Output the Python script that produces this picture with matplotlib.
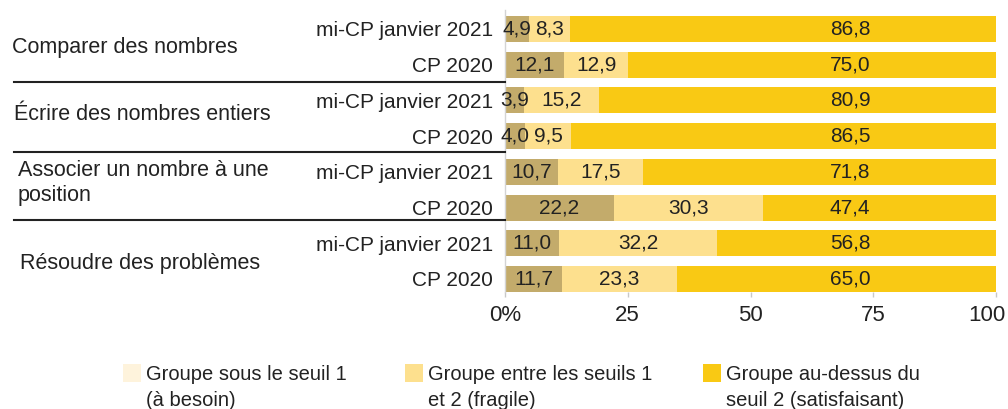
import matplotlib
matplotlib.use("Agg")
import matplotlib.pyplot as plt
import matplotlib.transforms as mtransforms
from matplotlib.patches import Rectangle
from matplotlib.lines import Line2D

# ---- data ----
categories = ["Comparer des nombres", "Écrire des nombres entiers",
              "Associer un nombre à une\nposition", "Résoudre des problèmes"]
periods = ["mi-CP janvier 2021", "CP 2020"]
row_labels = [p for _ in categories for p in periods]
besoin = [4.9, 12.1, 3.9, 4.0, 10.7, 22.2, 11.0, 11.7]
fragile = [8.3, 12.9, 15.2, 9.5, 17.5, 30.3, 32.2, 23.3]
satisf = [86.8, 75.0, 80.9, 86.5, 71.8, 47.4, 56.8, 65.0]
series_names = ["Groupe sous le seuil 1\n(à besoin)",
                "Groupe entre les seuils 1\net 2 (fragile)",
                "Groupe au-dessus du\nseuil 2 (satisfaisant)"]
xticks = [0, 25, 50, 75, 100]
xtick_labels = ["0%", "25", "50", "75", "100"]

bar_colors = ["#c3ab6b", "#fde08e", "#f9c914"]
legend_colors = ["#fef3dc", "#fde08e", "#f9c914"]
TXT = "#222222"
FONT = ["Liberation Sans", "DejaVu Sans"]

W, H = 1008, 409
fig = plt.figure(figsize=(W / 100, H / 100), dpi=100)
plt.rcParams["font.family"] = FONT


def fx(px):
    return px / W


def fy(py):
    return 1 - py / H


ax = fig.add_axes([fx(505), fy(292), fx(996) - fx(505), fy(10) - fy(292)])

y = list(range(len(row_labels)))
h = 0.728
lefts = [0.0] * len(y)
series = [besoin, fragile, satisf]
for k, vals in enumerate(series):
    ax.barh(y, vals, left=lefts, height=h, color=bar_colors[k], linewidth=0)
    for i, v in enumerate(vals):
        if k == 2:
            xpos = 70.3
        else:
            xpos = lefts[i] + v / 2
        ax.text(xpos, y[i], f"{v:.1f}".replace(".", ","), ha="center", va="center",
                fontsize=15, color=TXT, family=FONT)
    lefts = [l + v for l, v in zip(lefts, vals)]

ax.set_xlim(0, 100)
ax.set_ylim(7.364, -0.532)
ax.set_yticks(y)
ax.set_yticklabels(row_labels, fontsize=15, color=TXT, family=FONT)
ax.tick_params(axis="y", length=0, pad=8.6)
ax.set_xticks(xticks)
ax.set_xticklabels(xtick_labels, fontsize=16, color=TXT, family=FONT)
ax.tick_params(axis="x", length=3.6, width=1, color="#c8c8c8", pad=5.5)
for s in ["top", "right", "bottom"]:
    ax.spines[s].set_visible(False)
ax.spines["left"].set_color("#d4d4d4")
ax.spines["left"].set_linewidth(1)

# shift last tick label to stay inside the figure
lab = ax.get_xticklabels()[-1]
lab.set_transform(lab.get_transform() + mtransforms.ScaledTranslation(-9 / 100, 0, fig.dpi_scale_trans))

# category labels
cat_pos = [(12, 47), (14, 115), (18, 183), (20, 263)]
for (px, py), c in zip(cat_pos, categories):
    fig.text(fx(px), fy(py), c, ha="left", va="center", fontsize=15.5, color=TXT,
             family=FONT, linespacing=1.3)

# group separators
for py in [82, 152, 220]:
    fig.add_artist(Line2D([fx(14), fx(505)], [fy(py), fy(py)], color=TXT, lw=1.5))

# legend
sw_x = [123, 405, 703]
for x0, name, col in zip(sw_x, series_names, legend_colors):
    fig.add_artist(Rectangle((fx(x0), fy(382)), fx(18), 18 / H, color=col, lw=0))
    fig.text(fx(x0 + 23), fy(406), name, ha="left", va="baseline", fontsize=14.5,
             color=TXT, family=FONT, linespacing=1.5)

fig.savefig("out.png", dpi=100)
